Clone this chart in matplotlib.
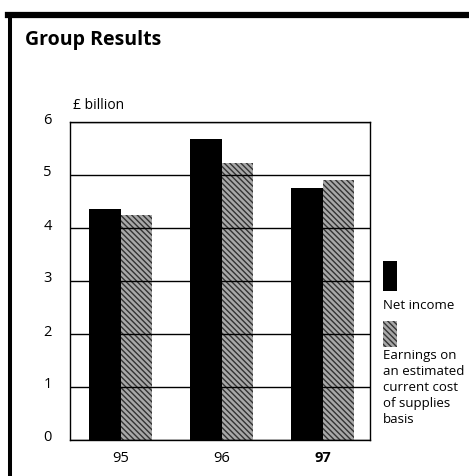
import matplotlib
matplotlib.use("Agg")
import matplotlib.pyplot as plt
import matplotlib.transforms as mtransforms
from matplotlib.patches import Rectangle
from matplotlib.lines import Line2D
import numpy as np

years = ["95", "96", "97"]
net_income = [4.36, 5.67, 4.75]
earnings_ccs = [4.25, 5.23, 4.91]
series_labels = ["Net income",
                 "Earnings on\nan estimated\ncurrent cost\nof supplies\nbasis"]
y_ticks = [0, 1, 2, 3, 4, 5, 6]

plt.rcParams['font.family'] = ['Open Sans', 'DejaVu Sans']
plt.rcParams['hatch.linewidth'] = 1.0
plt.rcParams['hatch.color'] = '#333333'

W, H = 469, 477
fig = plt.figure(figsize=(W / 100, H / 100), dpi=100)
ax = fig.add_axes([70 / W, 1 - 441 / H, 300 / W, 318 / H])

x = np.arange(len(years))
bw = 0.31
ax.bar(x - bw / 2, net_income, bw, color='black', linewidth=0)
ax.bar(x + bw / 2, earnings_ccs, bw, facecolor='#a8a8a8', edgecolor='#333333',
       hatch='\\\\\\\\\\\\', linewidth=0)

ax.set_xlim(-0.5, 2.47)
ax.set_ylim(0, 6)
ax.set_yticks(y_ticks)
ax.set_yticklabels([str(v) for v in y_ticks], fontsize=10.5)
ax.set_xticks(x)
ax.set_xticklabels(years, fontsize=10.5)
ax.get_xticklabels()[2].set_fontweight('bold')
ax.tick_params(length=0)
ax.tick_params(axis='y', pad=13)
ax.tick_params(axis='x', pad=7)
off = mtransforms.ScaledTranslation(0, 5 / 100, fig.dpi_scale_trans)
for lab in ax.get_yticklabels():
    lab.set_transform(lab.get_transform() + off)

ax.set_axisbelow(False)
ax.grid(axis='y', color='black', linewidth=1.0)
for s in ax.spines.values():
    s.set_linewidth(1.0)

ax.text(73 / W, 1 - 109 / H, "£ billion", transform=fig.transFigure, fontsize=10)

# outer frame (top and left only)
fig.add_artist(Line2D([8 / W, 1], [1 - 15.5 / H] * 2, color='black', linewidth=4.5))
fig.add_artist(Line2D([10 / W] * 2, [0, 1 - 15.5 / H], color='black', linewidth=2.9))

fig.text(25 / W, 1 - 45 / H, "Group Results", fontsize=14, fontweight='bold')

# legend
fig.add_artist(Rectangle((383 / W, 1 - 292 / H), 14 / W, 30 / H,
                         facecolor='black', linewidth=0))
fig.text(383 / W, 1 - 306 / H, series_labels[0], fontsize=9.5, va='center')
fig.add_artist(Rectangle((383 / W, 1 - 348 / H), 14 / W, 26 / H,
                         facecolor='#a8a8a8', edgecolor='#333333',
                         hatch='\\\\\\\\\\\\', linewidth=0))
fig.text(383 / W, 1 - 349 / H, series_labels[1], fontsize=9.5, va='top',
         linespacing=1.3)

fig.savefig("out.png", dpi=100)
